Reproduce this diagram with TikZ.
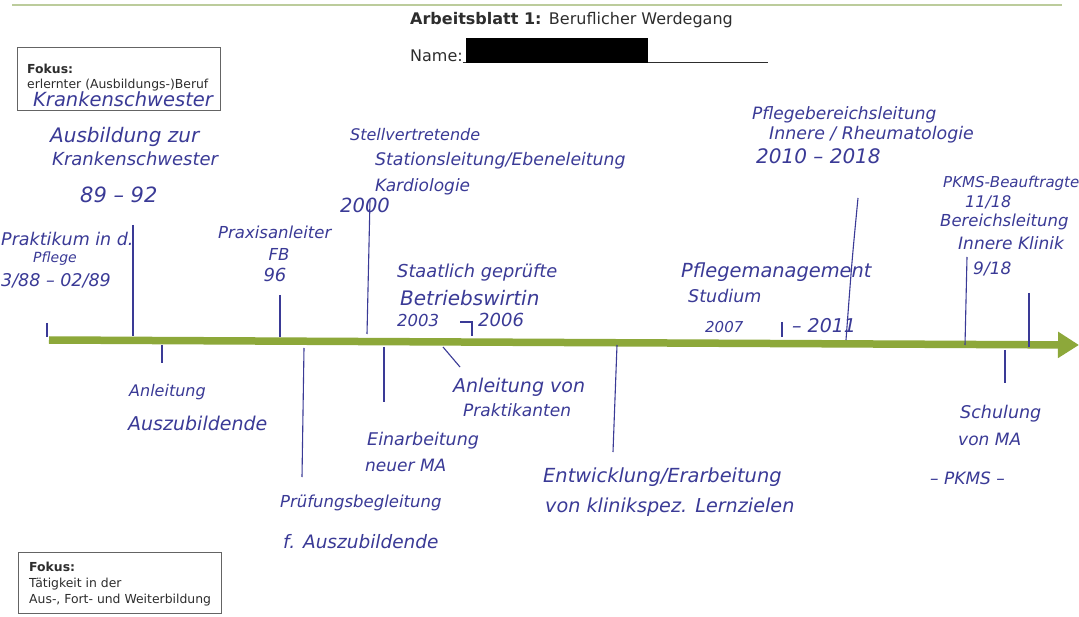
\documentclass[tikz,border=0pt]{standalone}
\usepackage{fontspec}
\newfontfamily\printfont{DejaVu Sans}
\newfontfamily\handfont{DejaVu Sans}
\usetikzlibrary{arrows.meta}
\definecolor{ink}{RGB}{58,58,150}
\definecolor{bar}{RGB}{141,168,58}
\definecolor{rulec}{RGB}{188,204,156}
\definecolor{printc}{RGB}{45,45,45}
\definecolor{boxc}{RGB}{100,100,100}

\begin{document}
\begin{tikzpicture}[x=1pt,y=-1pt]
	
	% Stile
	\tikzset{
		hand/.style={
			text=ink, anchor=base west, inner sep=0pt,
			font=\handfont\itshape\fontsize{#1}{#1}\selectfont
		},
		hand/.default=17,
		printed/.style={
			text=printc, anchor=base west, inner sep=0pt,
			font=\printfont\fontsize{#1}{#1}\selectfont
		},
		printed/.default=12.4,
		tick/.style = {draw=ink, line width=1.1pt},
		fokus/.style = {draw=boxc, line width=1pt}
	}
	
	% Blatt
	\fill[white] (0,0) rectangle (1079,617);
	\useasboundingbox (0,0) rectangle (1079,617);
	\draw[rulec, line width=2pt] (12,5) -- (1062,5);
	
	% Kopf
	\node[printed=16] (titel) at (410,25) {\bfseries Arbeitsblatt 1: \mdseries Beruflicher Werdegang};
	\node[printed=16] (name) at (410,62) {Name:};
	\draw[printc, line width=0.8pt] (name.base east) -- (768,62);
	\fill[black] (466,38) rectangle (648,63);
	
	% Fokus-Kaesten
	\draw[fokus] (17,48) rectangle (220,111);
	\node[printed] (fokusA) at (27,74) {\bfseries Fokus:};
	\node[printed] (berufA) at (27,89) {erlernter (Ausbildungs-)Beruf};
	\node[hand=19.5] (berufB) at (33,107) {Krankenschwester};
	
	\draw[fokus] (18,552) rectangle (221,613);
	\node[printed] (fokusB) at (29,571) {\bfseries Fokus:};
	\node[printed] (taetA) at (29,587) {Tätigkeit in der};
	\node[printed] (taetB) at (29,603) {Aus-, Fort- und Weiterbildung};
	
	% Zeitstrahl
	\draw[bar, line width=7.5pt, -{Triangle[length=21pt,width=25pt]}] (49,340) -- (1079,345);
	
	% Striche
	\foreach \xa/\ya/\xb/\yb in {47/323/47/337, 133/225/133/336, 280/295/280/337,
		370/200/367/334, 782/322/782/337, 967/257/965/345, 1029/293/1029/347,
		162/345/162/363, 304/348/302/477, 384/347/384/402, 443/347/460/367,
		617/345/613/452, 1005/350/1005/383}
	\draw[tick] (\xa,\ya) -- (\xb,\yb);
	\draw[tick] (460,322) -- (472,322) -- (472,336);
	\draw[tick] (858,198) .. controls (852,260) .. (846,340);
	
	% oben
	\node[hand=20] (ausbA) at (50,143) {Ausbildung zur};
	\node[hand=18] (ausbB) at (52,166) {Krankenschwester};
	\node[hand=21] (ausbC) at (80,203) {89 – 92};
	
	\node[hand=17.5] (praktA) at (1,246) {Praktikum in d.};
	\node[hand=14] (praktB) at (33,263) {Pflege};
	\node[hand=17.5] (praktC) at (1,287) {3/88 – 02/89};
	
	\node[hand=16.5] (praxA) at (218,239) {Praxisanleiter};
	\node[hand=16.5, anchor=base] (praxB) at (279,261) {FB};
	\node[hand=18, anchor=base] (praxC) at (275,282) {96};
	
	\node[hand=16] (stellA) at (350,141) {Stellvertretende};
	\node[hand=17.3] (stellB) at (375,166) {Stationsleitung/Ebeneleitung};
	\node[hand=17] (stellC) at (375,192) {Kardiologie};
	\node[hand=19.5] (stellD) at (340,213) {2000};
	
	\node[hand=17.8] (staatA) at (397,278) {Staatlich geprüfte};
	\node[hand=20] (staatB) at (400,306) {Betriebswirtin};
	\node[hand=16.5] (staatC) at (397,327) {2003};
	\node[hand=18] (staatD) at (478,327) {2006};
	
	\node[hand=19.4] (pflmA) at (681,278) {Pflegemanagement};
	\node[hand=17.5] (pflmB) at (688,303) {Studium};
	\node[hand=15] (pflmC) at (705,333) {2007};
	\node[hand=19] (pflmD) at (792,333) {– 2011};
	
	\node[hand=17] (pflbA) at (752,120) {Pflegebereichsleitung};
	\node[hand=17.4] (pflbB) at (769,140) {Innere / Rheumatologie};
	\node[hand=20] (pflbC) at (756,164) {2010 – 2018};
	
	\node[hand=15] (pkmsA) at (943,188) {PKMS-Beauftragte};
	\node[hand=16] (pkmsB) at (965,208) {11/18};
	\node[hand=16.5] (bereA) at (940,227) {Bereichsleitung};
	\node[hand=17] (bereB) at (958,250) {Innere Klinik};
	\node[hand=17] (bereC) at (973,275) {9/18};
	
	% unten
	\node[hand=16] (anlA) at (129,397) {Anleitung};
	\node[hand=19] (anlB) at (128,431) {Auszubildende};
	\node[hand=16.5] (pruefA) at (280,507) {Prüfungsbegleitung};
	\node[hand=18.5] (pruefB) at (283,548) {f. Auszubildende};
	\node[hand=17.5] (einA) at (367,445) {Einarbeitung};
	\node[hand=17] (einB) at (365,471) {neuer MA};
	\node[hand=19] (praktiA) at (453,393) {Anleitung von};
	\node[hand=17] (praktiB) at (463,417) {Praktikanten};
	\node[hand=19.4] (entwA) at (543,482) {Entwicklung/Erarbeitung};
	\node[hand=19.2] (entwB) at (545,512) {von klinikspez. Lernzielen};
	\node[hand=17.5] (schulA) at (960,418) {Schulung};
	\node[hand=17] (schulB) at (958,446) {von MA};
	\node[hand=17] (schulC) at (930,484) {– PKMS –};
	
\end{tikzpicture}
\end{document}
